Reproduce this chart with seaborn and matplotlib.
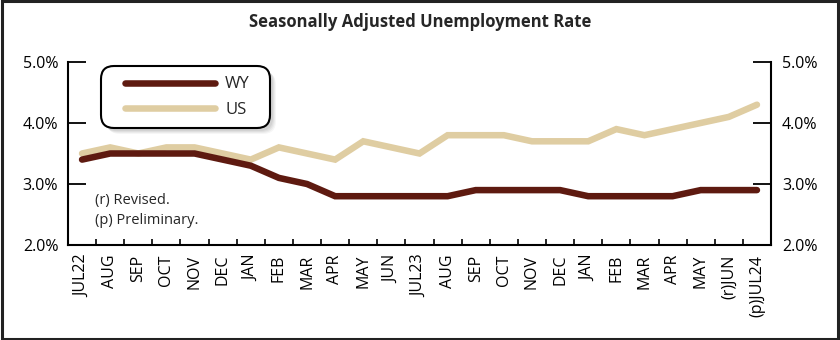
import matplotlib
matplotlib.use("Agg")
import matplotlib.pyplot as plt
from matplotlib.patches import Rectangle, FancyBboxPatch
from matplotlib.ticker import FixedLocator, PercentFormatter
import numpy as np
import pandas as pd
import seaborn as sns

months = ["JUL22", "AUG", "SEP", "OCT", "NOV", "DEC", "JAN", "FEB", "MAR", "APR",
          "MAY", "JUN", "JUL23", "AUG", "SEP", "OCT", "NOV", "DEC", "JAN", "FEB",
          "MAR", "APR", "MAY", "(r)JUN", "(p)JUL24"]
wy_rate = [3.4, 3.5, 3.5, 3.5, 3.5, 3.4, 3.3, 3.1, 3.0, 2.8,
           2.8, 2.8, 2.8, 2.8, 2.9, 2.9, 2.9, 2.9, 2.8, 2.8,
           2.8, 2.8, 2.9, 2.9, 2.9]
us_rate = [3.5, 3.6, 3.5, 3.6, 3.6, 3.5, 3.4, 3.6, 3.5, 3.4,
           3.7, 3.6, 3.5, 3.8, 3.8, 3.8, 3.7, 3.7, 3.7, 3.9,
           3.8, 3.9, 4.0, 4.1, 4.3]
series_names = ["WY", "US"]
y_ticks = [2.0, 3.0, 4.0, 5.0]

WY_COLOR = "#5E1A10"
US_COLOR = "#DFCDA2"

sns.set_theme(style="white")
plt.rcParams["font.family"] = ["Open Sans", "DejaVu Sans"]

idx = np.arange(len(months))
df = pd.DataFrame({
    "idx": np.concatenate([idx, idx]),
    "rate": wy_rate + us_rate,
    "area": [series_names[0]] * len(months) + [series_names[1]] * len(months),
})

W, H = 840, 340
fig = plt.figure(figsize=(W / 100, H / 100), dpi=100)
ax = fig.add_axes([68 / W, 1 - 245 / H, (771 - 68) / W, (245 - 62) / H])

sns.lineplot(data=df, x="idx", y="rate", hue="area", hue_order=series_names,
             palette=[WY_COLOR, US_COLOR], linewidth=4.7, ax=ax,
             legend=False, solid_capstyle="round", solid_joinstyle="miter")
# keep WY drawn above US
ax.lines[0].set_zorder(3)
ax.lines[1].set_zorder(2)

ax.set_xlim(-0.5, len(months) - 0.5)
ax.set_ylim(2.0, 5.0)
ax.set_xlabel("")
ax.set_ylabel("")

# category labels centred, tick marks between categories
ax.xaxis.set_major_locator(FixedLocator(idx))
ax.set_xticklabels(months, rotation=90, fontsize=11.5)
ax.xaxis.set_minor_locator(FixedLocator(np.arange(0.5, len(months) - 0.5, 1.0)))
ax.tick_params(axis="x", which="major", length=0, pad=7, colors="black")
ax.tick_params(axis="x", which="minor", bottom=True, direction="in", length=4,
               width=1.2, color="black")

ax.set_yticks(y_ticks)
ax.yaxis.set_major_formatter(PercentFormatter(decimals=1))
ax.tick_params(axis="y", which="major", left=True, direction="in", length=13,
               width=1.3, labelsize=11.5, pad=7, colors="black")
for lbl in ax.get_yticklabels():
    lbl.set_verticalalignment("center_baseline")

for side in ["left", "right", "bottom"]:
    ax.spines[side].set_visible(True)
    ax.spines[side].set_color("black")
    ax.spines[side].set_linewidth(1.5)
ax.spines["top"].set_visible(False)

ax2 = ax.twinx()
ax2.set_ylim(ax.get_ylim())
ax2.set_yticks(y_ticks)
ax2.yaxis.set_major_formatter(PercentFormatter(decimals=1))
ax2.tick_params(axis="y", which="major", right=True, direction="in", length=13,
                width=1.3, labelsize=11.5, pad=8, colors="black")
for lbl in ax2.get_yticklabels():
    lbl.set_verticalalignment("center_baseline")
for side in ["left", "right", "bottom", "top"]:
    ax2.spines[side].set_visible(False)
ax2.grid(False)

# rounded legend panel with a soft drop shadow
bx0, by0, bx1, by1 = 101 / W, 1 - 128 / H, 270 / W, 1 - 66 / H
r = 13 / W
aspect = W / H
for k, (dx, a) in enumerate([(6, 0.07), (5, 0.09), (4, 0.11), (3, 0.13)]):
    fig.patches.append(FancyBboxPatch(
        (bx0 + dx / W, by0 - dx / H), bx1 - bx0, by1 - by0,
        boxstyle=f"round,pad=0,rounding_size={r}", mutation_aspect=aspect,
        transform=fig.transFigure, facecolor="#808080", edgecolor="none",
        alpha=a, zorder=4))
fig.patches.append(FancyBboxPatch(
    (bx0, by0), bx1 - bx0, by1 - by0,
    boxstyle=f"round,pad=0,rounding_size={r}", mutation_aspect=aspect,
    transform=fig.transFigure, facecolor="white", edgecolor="black",
    linewidth=1.5, zorder=5))

handles = [plt.Line2D([], [], color=WY_COLOR, lw=4.7, solid_capstyle="round"),
           plt.Line2D([], [], color=US_COLOR, lw=4.7, solid_capstyle="round")]
leg = fig.legend(handles, series_names, loc="center",
                 bbox_to_anchor=((bx0 + bx1) / 2 + 2 / W, (by0 + by1) / 2),
                 bbox_transform=fig.transFigure, frameon=False,
                 handlelength=5.4, handletextpad=0.6, labelspacing=0.55,
                 borderpad=0, fontsize=12)
leg.set_zorder(6)

ax.text(0.038, 0.285, "(r) Revised.\n(p) Preliminary.", transform=ax.transAxes,
        fontsize=10.5, va="top", ha="left", linespacing=1.45)

fig.text(0.5, 0.935, "Seasonally Adjusted Unemployment Rate", ha="center",
         va="center", fontsize=12, fontweight="bold")

fig.patches.append(Rectangle((0.002, 0.003), 0.996, 0.994, transform=fig.transFigure,
                             fill=False, edgecolor="#222222", linewidth=2.2))

fig.savefig("out.png", dpi=100)
